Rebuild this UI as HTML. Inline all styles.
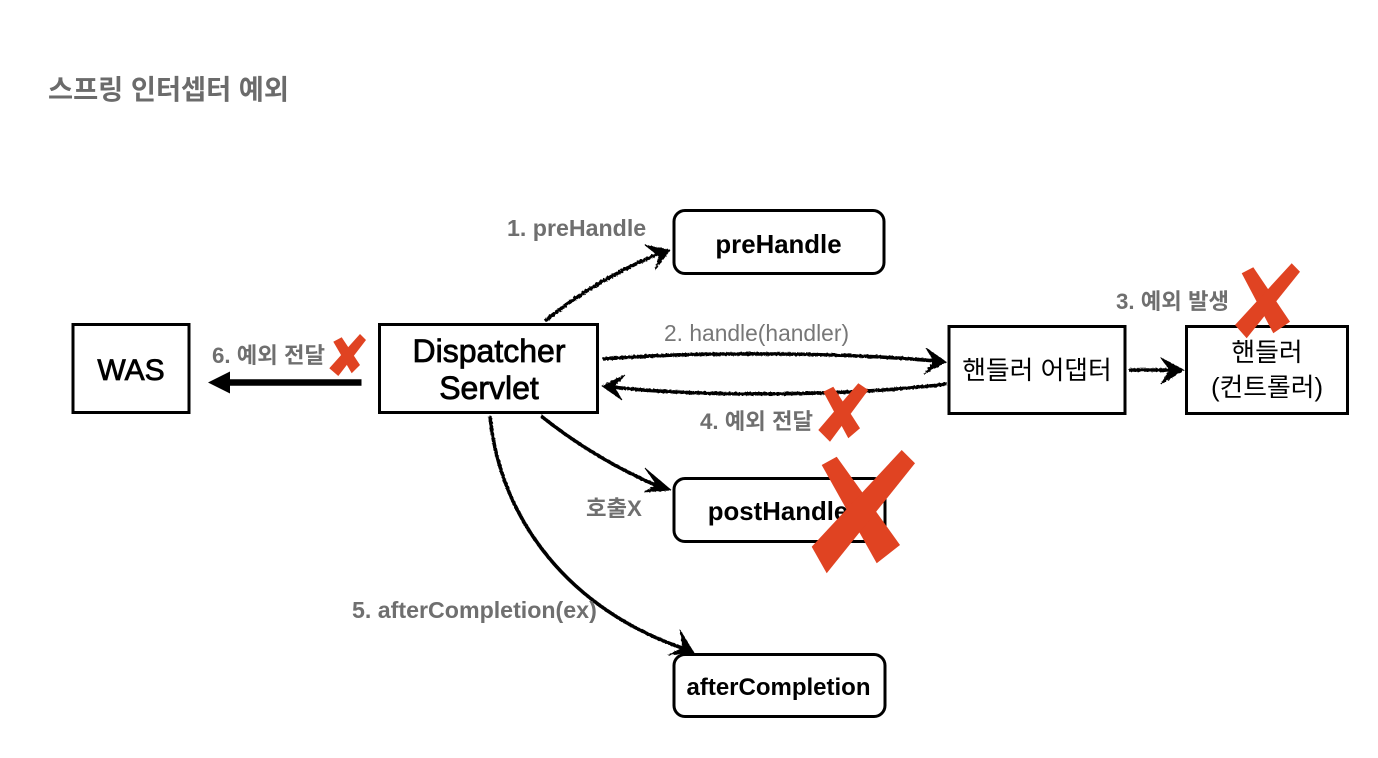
<!DOCTYPE html>
<html lang="ko">
<head>
<meta charset="utf-8">
<title>스프링 인터셉터 예외</title>
<style>
html,body{margin:0;padding:0;background:#fff;width:1378px;height:758px;overflow:hidden}
svg{display:block}
text{font-family:"Liberation Sans","Noto Sans CJK KR",sans-serif}
.g{fill:#6f6f6f;font-weight:700;font-size:22.300px}
.n{fill:#000;font-size:25.800px;text-anchor:middle}
.m{stroke:#000;stroke-width:.8px}
.b{font-weight:700}
.box{fill:#fff;stroke:#000;stroke-width:3}
.arr{fill:none;stroke:#000;stroke-width:3.6;stroke-linecap:butt}
.hd{fill:#000;stroke:#000;stroke-width:.8}
.x{fill:#e04322}
</style>
</head>
<body>
<svg width="1378" height="758" viewBox="0 0 1378 758" xmlns="http://www.w3.org/2000/svg">
<defs>
<filter id="sk" x="-5%" y="-5%" width="110%" height="110%">
<feTurbulence type="fractalNoise" baseFrequency="0.45" numOctaves="2" seed="3"/>
<feDisplacementMap in="SourceGraphic" scale="2.4"/>
</filter>
</defs>
<rect width="1378" height="758" fill="#fff"/>

<text x="48" y="99" font-size="27.400" font-weight="700" fill="#6b6b6b" textLength="241" lengthAdjust="spacingAndGlyphs">스프링 인터셉터 예외</text>

<g filter="url(#sk)">
<path class="arr" d="M545 321C580 292 620 270 660 253"/>
<path class="hd" d="M645 245L670 250L655 270L659 256Z"/>
<path class="arr" d="M603 359C700 351 850 353 936 361"/>
<path class="hd" d="M926 348L946 362L924 374L934 361Z"/>
<path class="arr" d="M947 384C850 396 700 397 612 387"/>
<path class="hd" d="M625 375L602 386L622 400L614 387Z"/>
<path class="arr" d="M1129 370L1174 370"/>
<path class="hd" d="M1161 358L1184 370L1161 384L1170 370Z"/>
<path class="arr" d="M541 416C580 447 620 470 660 487"/>
<path class="hd" d="M645 468L671 490L644 492L657 485Z"/>
<path class="arr" d="M490 416C500 520 570 610 685 649"/>
<path class="hd" d="M680 630L694 653L668 655L683 648Z"/>
</g>

<path d="M361.500 382.500H228" stroke="#000" stroke-width="6.500" fill="none"/>
<path d="M208 382.500L230 371.500V393.500Z" fill="#000"/>

<rect class="box" x="73" y="324.500" width="116" height="88"/>
<rect class="box" x="379.500" y="324.500" width="218" height="88"/>
<rect class="box" x="949" y="326.500" width="176" height="87"/>
<rect class="box" x="1186.500" y="326.500" width="161" height="87"/>
<rect class="box" x="674" y="210.500" width="210" height="63" rx="11"/>
<rect class="box" x="674" y="478.500" width="211" height="63" rx="11"/>
<rect class="box" x="674" y="654.500" width="211" height="62" rx="11"/>

<text class="n m" x="131" y="380" style="font-size:30px">WAS</text>
<text class="n m" x="489" y="362" style="font-size:32px">Dispatcher</text>
<text class="n m" x="489" y="399" style="font-size:32px">Servlet</text>
<text class="n" x="1037" y="379">핸들러 어댑터</text>
<text class="n" x="1267" y="361">핸들러</text>
<text class="n" x="1267" y="396">(컨트롤러)</text>
<text class="n b" x="778.500" y="253">preHandle</text>
<text class="n b" x="778" y="520">postHandle</text>
<text class="n b" x="778.500" y="695" style="font-size:24px">afterCompletion</text>

<text class="g" x="507" y="236" style="font-size:23.200px">1. preHandle</text>
<text x="664" y="341" font-size="22.800" fill="#777">2. handle(handler)</text>
<text class="g" x="1116" y="309">3. 예외 발생</text>
<text class="g" x="700" y="429">4. 예외 전달</text>
<text class="g" x="352" y="618" style="font-size:23.200px">5. afterCompletion(ex)</text>
<text class="g" x="212" y="363">6. 예외 전달</text>
<text class="g" x="586" y="516">호출X</text>

<polygon class="x" points="821.700,465 836.700,456.700 900,545 876.700,563.300"/>
<polygon class="x" points="901.700,450 915,463.300 826.700,573.300 811.700,546.700"/>
<polygon class="x" points="1241.700,273.300 1253.300,267.300 1290,321.700 1273.300,333.300"/>
<polygon class="x" points="1291.700,263.300 1300,271.700 1246.700,338.300 1235,325"/>
<polygon class="x" points="823.300,391.700 833.300,386.700 860,428.300 848.300,438.300"/>
<polygon class="x" points="858.300,383.300 868.300,390 830,441.700 818.300,430"/>
<polygon class="x" points="333.300,341.700 341.700,337.300 360,365 351.700,373.300"/>
<polygon class="x" points="360,334 366,340 338.300,376 329.300,368.300"/>
</svg>
</body>
</html>
